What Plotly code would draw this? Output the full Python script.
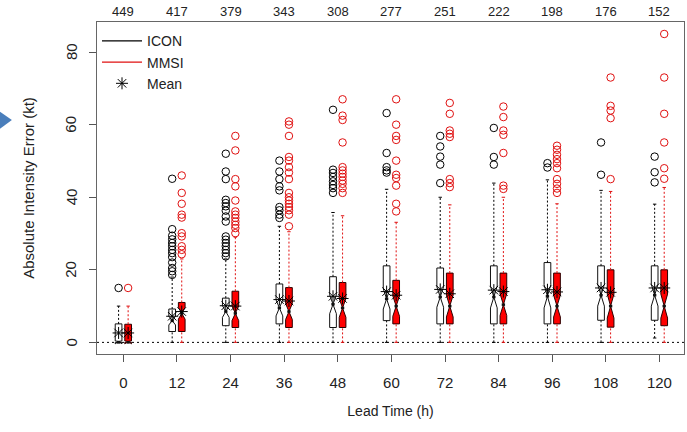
import plotly.graph_objects as go

# ---------------- data ----------------
leads = [0, 12, 24, 36, 48, 60, 72, 84, 96, 108, 120]
counts = [449, 417, 379, 343, 308, 277, 251, 222, 198, 176, 152]

icon_lo = [0, 0, 0, 0, 0, 0, 0, 0, 0, 0, 1.2]
icon_q1 = [0, 3.0, 4.6, 5.1, 4.1, 6.0, 5.1, 5.1, 5.1, 6.1, 6.1]
icon_med = [0, 6.0, 8.5, 9.5, 10.5, 12.0, 12.5, 12.5, 12.7, 13.0, 13.0]
icon_q3 = [5.1, 9.2, 12.2, 16.1, 18.1, 21.1, 20.5, 21.1, 22.0, 21.1, 21.1]
icon_hi = [10.0, 18.0, 23.0, 32.0, 35.8, 42.2, 40.0, 43.9, 44.8, 41.9, 38.1]
icon_mean = [2.6, 7.2, 10.1, 11.8, 12.7, 14.0, 14.6, 14.4, 14.5, 15.0, 15.0]
icon_notch = [0.4, 1.2, 1.6, 2.2, 2.6, 2.8, 2.8, 3.0, 3.2, 3.0, 3.0]
icon_out = [
    [15],
    [18.6, 19.6, 20.5, 22.0, 23.5, 24.6, 25.5, 26.5, 27.4, 28.4, 29.4, 31.2, 45.1],
    [23.7, 24.6, 25.5, 26.5, 27.4, 28.3, 29.2, 33.3, 34.7, 36.3, 37.5, 38.4, 39.3, 45.0, 47.1, 52.0],
    [34.3, 35.2, 36.4, 37.3, 41.9, 43.0, 45.0, 47.1, 50.1],
    [41.2, 42.5, 43.4, 44.4, 45.6, 46.7, 47.6, 64.1],
    [46.8, 47.4, 48.3, 52.2, 63.2],
    [43.9, 49.0, 51.2, 54.0, 56.9],
    [49.0, 51.1, 59.1],
    [48.2, 49.4],
    [46.2, 55.1],
    [44.1, 46.9, 51.2],
]

mmsi_lo = [0, 0, 0, 0, 0, 0, 0, 0, 0, 0, 0]
mmsi_q1 = [0, 3.0, 4.1, 4.1, 4.1, 5.1, 5.1, 5.1, 5.1, 4.2, 4.6]
mmsi_med = [0, 8.0, 8.0, 8.5, 9.5, 10.0, 10.0, 10.4, 10.0, 10.0, 10.0]
mmsi_q3 = [5.0, 11.0, 14.1, 15.1, 16.5, 17.1, 19.1, 19.1, 19.1, 20.0, 20.0]
mmsi_hi = [10.0, 23.0, 29.0, 30.5, 34.9, 33.1, 37.9, 40.0, 38.2, 41.6, 42.7]
mmsi_mean = [2.6, 8.5, 10.0, 11.4, 12.1, 13.0, 13.4, 14.0, 13.9, 13.8, 15.0]
mmsi_notch = [0.4, 1.6, 2.0, 2.2, 2.6, 2.8, 3.0, 3.0, 3.0, 3.3, 3.3]
mmsi_out = [
    [15],
    [24.3, 25.5, 26.5, 29.2, 30.1, 34.4, 35.2, 38.2, 41.2, 46.0],
    [30.1, 31.5, 32.4, 33.3, 34.3, 35.2, 36.1, 39.1, 43.0, 45.0, 52.9, 56.9],
    [32.0, 35.2, 36.4, 37.3, 38.2, 39.1, 40.0, 41.2, 45.0, 46.8, 48.3, 50.1, 51.1, 56.9, 60.0, 60.9],
    [41.2, 42.5, 43.7, 44.6, 45.6, 46.5, 47.4, 48.3, 55.1, 61.3, 62.5, 67.0],
    [36.1, 38.2, 43.2, 45.3, 46.2, 50.1, 55.8, 56.9, 60.0, 67.0],
    [42.8, 43.9, 45.0, 56.6, 57.5, 58.4, 63.0, 66.0],
    [42.3, 43.2, 52.2, 57.2, 58.4, 62.1, 65.0],
    [41.2, 42.4, 43.7, 45.0, 48.0, 49.4, 50.5, 51.7, 53.1, 54.2],
    [45.0, 61.8, 63.9, 65.2, 73.0],
    [45.1, 48.0, 55.1, 63.0, 73.0, 85.0],
]

y_ticks = [0, 20, 40, 60, 80]

# ---------------- styling ----------------
FONT = "Liberation Sans, Arial, sans-serif"
TXT = "#222222"
RED = "#e01010"
OFFSET = 1.07      # half distance between paired boxes (x units)
BOX_W = 1.5        # box width (x units)
CAP = 0.38         # half width of whisker staples


def whiskers(xs, lo, q1, q3, hi):
    wx, wy, cx, cy = [], [], [], []
    for x, a, b, c, d in zip(xs, lo, q1, q3, hi):
        wx += [x, x, None, x, x, None]
        wy += [c, d, None, a, b, None]
        cx += [x - CAP, x + CAP, None, x - CAP, x + CAP, None]
        cy += [d, d, None, a, a, None]
    return wx, wy, cx, cy


def median_bars(xs, med):
    mx, my = [], []
    for x, m in zip(xs, med):
        mx += [x - BOX_W / 4, x + BOX_W / 4, None]
        my += [m, m, None]
    return mx, my


def outliers(xs, lists):
    ox, oy = [], []
    for x, vals in zip(xs, lists):
        ox += [x] * len(vals)
        oy += vals
    return ox, oy


fig = go.Figure()

series = [
    ("ICON", [l - OFFSET for l in leads], icon_lo, icon_q1, icon_med, icon_q3, icon_hi,
     icon_mean, icon_notch, icon_out, "black", "white", "#111111"),
    ("MMSI", [l + OFFSET for l in leads], mmsi_lo, mmsi_q1, mmsi_med, mmsi_q3, mmsi_hi,
     mmsi_mean, mmsi_notch, mmsi_out, RED, "#ff0000", "#2a0000"),
]

for (name, xs, lo, q1, med, q3, hi, mean, notch, outs, col, fill, edge) in series:
    wx, wy, cx, cy = whiskers(xs, lo, q1, q3, hi)
    fig.add_trace(go.Scatter(x=wx, y=wy, mode="lines", showlegend=False, hoverinfo="skip",
                             line=dict(color=col, width=1, dash="2px,2px")))
    fig.add_trace(go.Scatter(x=cx, y=cy, mode="lines", showlegend=False, hoverinfo="skip",
                             line=dict(color=col, width=1)))
    fig.add_trace(go.Box(x=xs, q1=q1, median=med, q3=q3, lowerfence=q1, upperfence=q3,
                         notchspan=notch, notched=True, notchwidth=0.5, width=BOX_W,
                         whiskerwidth=0, fillcolor=fill, line=dict(color=edge, width=1),
                         showlegend=False, hoverinfo="skip", name=name))
    mx, my = median_bars(xs, med)
    fig.add_trace(go.Scatter(x=mx, y=my, mode="lines", showlegend=False, hoverinfo="skip",
                             line=dict(color="#111111", width=2.5)))
    ox, oy = outliers(xs, outs)
    fig.add_trace(go.Scatter(x=ox, y=oy, mode="markers", showlegend=False, hoverinfo="skip",
                             marker=dict(symbol="circle-open", size=7.5, color=col,
                                         line=dict(width=1, color=col))))

# legend entries
fig.add_trace(go.Scatter(x=[None], y=[None], mode="lines", name="ICON", legendrank=1,
                         line=dict(color="black", width=1.2)))
fig.add_trace(go.Scatter(x=[None], y=[None], mode="lines", name="MMSI", legendrank=2,
                         line=dict(color=RED, width=1.2)))

# means
fig.add_trace(go.Scatter(x=[l - OFFSET for l in leads] + [l + OFFSET for l in leads],
                         y=icon_mean + mmsi_mean, mode="markers", name="Mean", legendrank=3,
                         hoverinfo="skip",
                         marker=dict(symbol="asterisk-open", size=10, color="black",
                                     line=dict(width=1, color="black"))))

# zero reference line
fig.add_hline(y=0, line=dict(color="black", width=1, dash="2px,3px"), layer="below")

# sample counts above the plot
for l, n in zip(leads, counts):
    fig.add_annotation(x=l, y=1, yref="paper", yanchor="bottom", yshift=1, text=str(n),
                       showarrow=False, font=dict(size=13, color=TXT, family=FONT))

# rotated y tick labels (R style), placed through the y scale
for v in y_ticks:
    fig.add_annotation(x=0, xref="paper", y=v, yref="y", text=str(v), textangle=-90,
                       showarrow=False, xanchor="center", yanchor="middle", xshift=-26,
                       font=dict(size=15, color=TXT, family=FONT))

# decorative slide arrow at the far left
fig.add_shape(type="path", xref="paper", yref="paper",
              path="M -0.170,0.735 L -0.145,0.705 L -0.170,0.672 Z",
              fillcolor="#4a7ebb", line=dict(width=0))

fig.update_layout(
    width=687, height=432,
    margin=dict(l=97, r=3, t=22, b=78),
    paper_bgcolor="white", plot_bgcolor="white",
    font=dict(family=FONT, color=TXT, size=15),
    boxmode="overlay",
    legend=dict(x=0.0, y=0.99, xanchor="left", yanchor="top", bgcolor="rgba(0,0,0,0)",
                font=dict(size=14, color=TXT), itemwidth=40, tracegroupgap=0),
    xaxis=dict(range=[-5.9, 125.5], tickvals=leads, ticktext=[str(l) for l in leads],
               ticks="outside", ticklen=7, tickcolor="#555", showline=True, mirror=True,
               linecolor="#666", linewidth=1, showgrid=False, zeroline=False,
               tickfont=dict(size=15), ticklabelstandoff=8, automargin=False,
               title=dict(text="Lead Time (h)", font=dict(size=14), standoff=16)),
    yaxis=dict(range=[-3.2, 88.3], tickvals=y_ticks, showticklabels=False,
               ticks="outside", ticklen=7, tickcolor="#555", showline=True, mirror=True,
               linecolor="#666", linewidth=1, showgrid=False, zeroline=False,
               automargin=False,
               title=dict(text="Absolute Intensity Error (kt)", font=dict(size=15), standoff=50)),
)

fig.write_html("out.html", post_script="document.body.style.margin='0';",
               config={"displayModeBar": False})
